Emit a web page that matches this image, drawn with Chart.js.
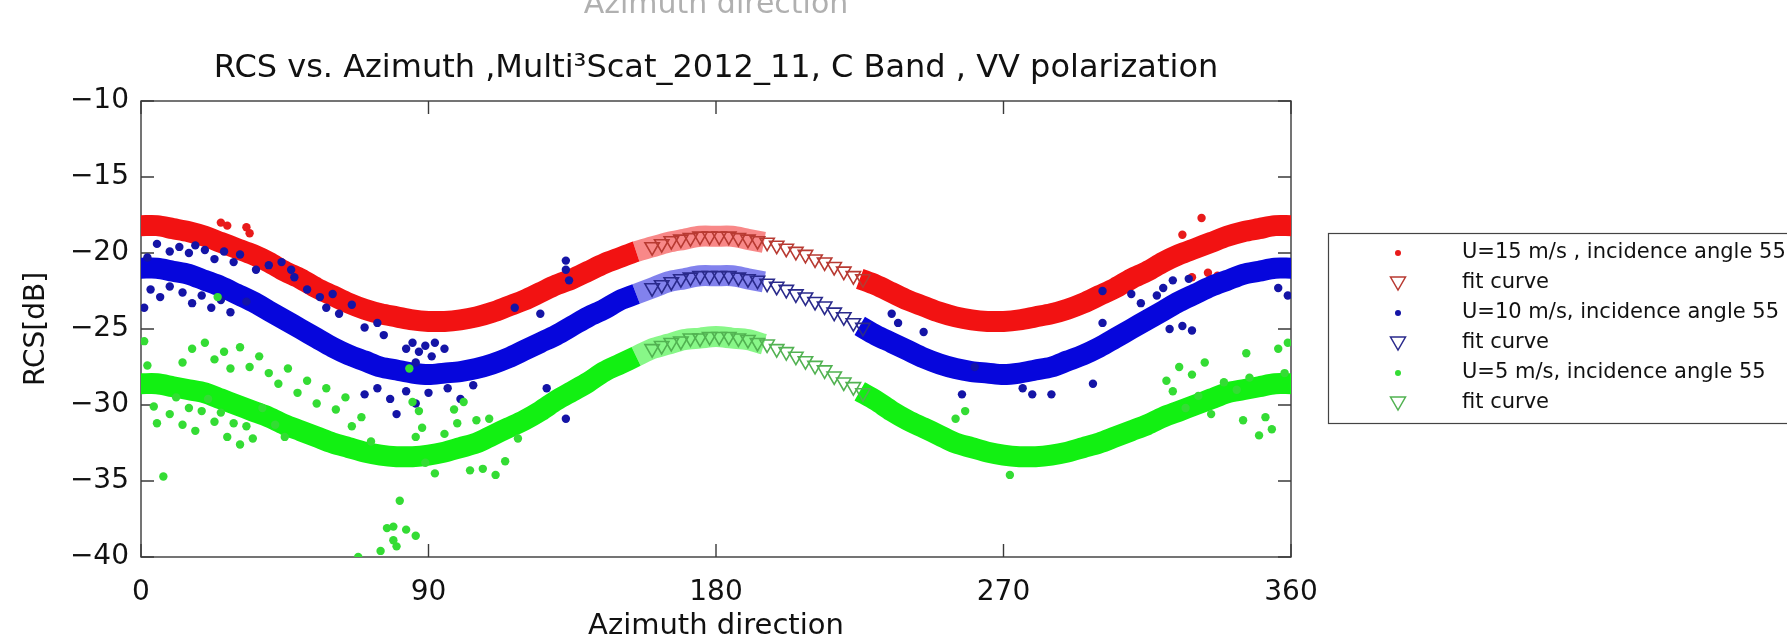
<!DOCTYPE html>
<html><head><meta charset="utf-8">
<script src="https://cdn.jsdelivr.net/npm/chart.js@4.4.1/dist/chart.umd.min.js"></script>
<style>
html,body{margin:0;padding:0;background:#fff;overflow:hidden}
#wrap{position:relative;width:1787px;height:640px}
</style></head><body>
<div id="wrap"><canvas id="c"></canvas></div>
<script>
// ---------- data ----------
const xTicks = [0, 90, 180, 270, 360];
const yTicks = [-40, -35, -30, -25, -20, -15, -10];

const bandAzimuth = [0,5,10,15,20,25,30,35,40,45,50,55,60,65,70,75,80,85,90,95,100,105,110,115,120,125,130,135,140,145,150,155,160,165,170,175,180,185,190,195,200,205,210,215,220,225,230,235,240,245,250,255,260,265,270,275,280,285,290,295,300,305,310,315,320,325,330,335,340,345,350,355,360];
const redBand = [-18.2,-18.2,-18.4,-18.6,-18.9,-19.3,-19.7,-20.1,-20.6,-21.2,-21.7,-22.3,-22.8,-23.3,-23.7,-24.0,-24.2,-24.4,-24.5,-24.5,-24.4,-24.2,-23.9,-23.5,-23.1,-22.6,-22.1,-21.7,-21.2,-20.7,-20.3,-19.9,-19.6,-19.3,-19.1,-18.9,-18.9,-18.9,-19.1,-19.3,null,null,null,null,null,-21.7,-22.1,-22.6,-23.1,-23.5,-23.9,-24.2,-24.4,-24.5,-24.5,-24.4,-24.2,-24.0,-23.7,-23.3,-22.8,-22.3,-21.7,-21.2,-20.6,-20.1,-19.7,-19.3,-18.9,-18.6,-18.4,-18.2,-18.2];
const blueBand = [-21.0,-21.0,-21.2,-21.4,-21.8,-22.2,-22.7,-23.2,-23.8,-24.4,-25.0,-25.6,-26.2,-26.7,-27.1,-27.5,-27.7,-27.9,-28.0,-27.9,-27.8,-27.6,-27.3,-26.9,-26.4,-25.9,-25.4,-24.8,-24.2,-23.7,-23.1,-22.7,-22.3,-21.9,-21.7,-21.5,-21.5,-21.5,-21.7,-21.9,null,null,null,null,null,-24.8,-25.4,-25.9,-26.4,-26.9,-27.3,-27.6,-27.8,-27.9,-28.0,-27.9,-27.7,-27.5,-27.1,-26.7,-26.2,-25.6,-25.0,-24.4,-23.8,-23.2,-22.7,-22.2,-21.8,-21.4,-21.2,-21.0,-21.0];
const greenBand = [-28.6,-28.6,-28.8,-29.0,-29.2,-29.6,-30.0,-30.4,-30.8,-31.3,-31.7,-32.1,-32.5,-32.8,-33.1,-33.3,-33.4,-33.4,-33.3,-33.1,-32.8,-32.5,-32.0,-31.5,-31.0,-30.4,-29.7,-29.1,-28.5,-27.8,-27.3,-26.8,-26.3,-26.0,-25.7,-25.6,-25.5,-25.6,-25.7,-26.0,null,null,null,null,null,-29.1,-29.7,-30.4,-31.0,-31.5,-32.0,-32.5,-32.8,-33.1,-33.3,-33.4,-33.4,-33.3,-33.1,-32.8,-32.5,-32.1,-31.7,-31.3,-30.8,-30.4,-30.0,-29.6,-29.2,-29.0,-28.8,-28.6,-28.6];

const fitAzimuth = [160,163,166,169,172,175,178,181,184,187,190,193,196,199,202,205,208,211,214,217,220,223,226];
const redFit   = [-19.6,-19.4,-19.2,-19.1,-19.0,-18.9,-18.9,-18.9,-18.9,-19.0,-19.1,-19.2,-19.3,-19.5,-19.7,-19.9,-20.1,-20.4,-20.6,-20.9,-21.2,-21.5,-21.7];
const blueFit  = [-22.3,-22.1,-21.9,-21.7,-21.6,-21.5,-21.5,-21.5,-21.5,-21.6,-21.7,-21.8,-22.0,-22.2,-22.4,-22.7,-22.9,-23.2,-23.5,-23.9,-24.2,-24.6,-24.9];
const greenFit = [-26.3,-26.1,-25.9,-25.8,-25.6,-25.6,-25.5,-25.5,-25.5,-25.6,-25.7,-25.9,-26.0,-26.3,-26.5,-26.8,-27.1,-27.4,-27.7,-28.1,-28.5,-28.8,-29.2];

const redOutAz  = [25,27,33,34,326,332,329,334,337];
const redOutVal = [-18.0,-18.2,-18.3,-18.7,-18.8,-17.7,-21.6,-21.3,-21.5];

const blueOutAz  = [2,5,9,12,15,17,20,23,26,29,31,36,40,44,47,48,1,3,6,9,13,16,19,22,25,28,33,52,56,58,60,62,66,70,74,76,83,85,87,89,91,86,92,95,70,74,78,80,83,86,90,96,100,104,127,133,133,133,134,117,125,235,237,245,257,261,276,279,285,298,301,310,313,318,320,323,328,322,326,329,301,356,359];
const blueOutVal = [-20.3,-19.4,-19.9,-19.6,-20.0,-19.5,-19.8,-20.4,-19.9,-20.6,-20.1,-21.1,-20.8,-20.6,-21.1,-21.6,-23.6,-22.4,-22.9,-22.2,-22.6,-23.3,-22.8,-23.6,-23.1,-23.9,-23.2,-22.4,-22.9,-23.6,-22.7,-24.0,-23.4,-24.9,-24.6,-25.4,-26.3,-25.9,-26.5,-26.1,-26.8,-27.2,-25.9,-26.3,-29.3,-28.9,-29.6,-30.6,-29.1,-29.9,-29.2,-28.9,-29.6,-28.7,-28.9,-30.9,-20.5,-21.1,-21.8,-23.6,-24.0,-24.0,-24.6,-25.2,-29.3,-27.5,-28.9,-29.3,-29.3,-28.6,-22.5,-22.7,-23.3,-22.8,-22.3,-21.8,-21.7,-25.0,-24.8,-25.1,-24.6,-22.3,-22.8];

const greenOutAz  = [1,2,4,5,7,9,11,13,15,17,19,21,23,25,27,29,31,33,35,13,16,20,23,26,28,31,34,37,40,43,46,49,52,55,58,61,64,66,69,72,38,42,45,24,68,75,77,79,81,80,83,86,79,84,85,86,87,88,89,92,95,98,99,101,103,105,107,109,111,114,118,255,258,272,321,323,325,327,329,331,333,335,339,343,345,347,350,352,354,356,358,359,346];
const greenOutVal = [-25.8,-27.4,-30.1,-31.2,-34.7,-30.6,-29.5,-31.3,-30.2,-31.7,-30.4,-29.6,-31.1,-30.5,-32.1,-31.2,-32.6,-31.4,-32.2,-27.2,-26.3,-25.9,-27.0,-26.5,-27.6,-26.2,-27.5,-26.8,-27.9,-28.6,-27.6,-29.2,-28.4,-29.9,-28.9,-30.3,-29.5,-31.4,-30.8,-32.4,-30.2,-31.3,-32.1,-22.9,-40.0,-39.6,-38.1,-38.0,-36.3,-39.3,-38.2,-38.6,-38.9,-27.6,-29.8,-32.1,-30.4,-31.5,-33.8,-34.5,-31.9,-30.3,-31.2,-29.8,-34.3,-31.0,-34.2,-30.9,-34.6,-33.7,-32.2,-30.9,-30.4,-34.6,-28.4,-29.1,-27.5,-30.2,-28.0,-29.4,-27.2,-30.6,-28.5,-29.0,-31.0,-28.2,-32.0,-30.8,-31.6,-26.3,-27.9,-25.9,-26.6];

const seriesLabels = ['U=15 m/s , incidence angle 55', 'U=10 m/s, incidence angle 55', 'U=5 m/s, incidence angle 55'];
const fitLabel = 'fit curve';
const xTitle = 'Azimuth direction';
const yTitle = 'RCS[dB]';
const chartTitle = 'RCS vs. Azimuth ,Multi\u00B3Scat_2012_11, C Band , VV polarization';

// ---------- helpers ----------
const pts = (xs, ys) => xs.map((x, i) => ({x, y: ys[i]}));
function dotCanvas(color) {
  const c = document.createElement('canvas'); c.width = 10; c.height = 10;
  const g = c.getContext('2d'); g.fillStyle = color; g.beginPath(); g.arc(5, 5, 3, 0, Math.PI * 2); g.fill();
  return c;
}
function triCanvas(color) {
  const c = document.createElement('canvas'); c.width = 20; c.height = 18;
  const g = c.getContext('2d'); g.strokeStyle = color; g.lineWidth = 1.5;
  g.beginPath(); g.moveTo(2.5, 3); g.lineTo(17.5, 3); g.lineTo(10, 16); g.closePath(); g.stroke();
  return c;
}
const FONT = "'DejaVu Sans', Verdana, sans-serif";
Chart.defaults.font.family = FONT;
Chart.defaults.color = '#111';

const C = {
  red:   {band: '#f21212', faint: 'rgba(242,18,18,0.5)', out: '#e81a1a', fit: '#b83a32'},
  blue:  {band: '#0606dc', faint: 'rgba(6,6,220,0.5)',   out: '#1414a6', fit: '#2a2a8c'},
  green: {band: '#12f012', faint: 'rgba(18,240,18,0.5)', out: '#34dc34', fit: '#52b252'}
};

function bandDs(vals, col, order) {
  return {
    isBand: true, label: '', order,
    data: pts(bandAzimuth, vals), showLine: true, spanGaps: false,
    borderColor: col.band, borderWidth: 21, borderCapStyle: 'butt', tension: 0.3,
    pointRadius: 0, pointHoverRadius: 0,
    segment: { borderColor: ctx => (ctx.p0.parsed.x >= 155 && ctx.p0.parsed.x < 200) ? col.faint : undefined }
  };
}
function outDs(label, xs, ys, col, order, rank) {
  return {
    label, order, legendRank: rank, legendIcon: dotCanvas(col.out),
    data: pts(xs, ys), showLine: false,
    pointStyle: 'circle', pointRadius: 4.2, pointHoverRadius: 4.2, pointBorderWidth: 0,
    backgroundColor: col.out, borderColor: col.out
  };
}
function fitDs(vals, col, order, rank) {
  return {
    label: fitLabel, order, legendRank: rank, legendIcon: triCanvas(col.fit),
    data: pts(fitAzimuth, vals), showLine: false,
    pointStyle: 'triangle', pointRotation: 180, pointRadius: 8.3, pointHoverRadius: 8.3,
    pointBorderWidth: 1.6, backgroundColor: 'rgba(0,0,0,0)', borderColor: col.fit
  };
}

const datasets = [
  bandDs(redBand, C.red, 9),
  outDs(seriesLabels[0], redOutAz, redOutVal, C.red, 8, 0),
  fitDs(redFit, C.red, 7, 1),
  bandDs(blueBand, C.blue, 6),
  outDs(seriesLabels[1], blueOutAz, blueOutVal, C.blue, 5, 2),
  fitDs(blueFit, C.blue, 4, 3),
  bandDs(greenBand, C.green, 3),
  outDs(seriesLabels[2], greenOutAz, greenOutVal, C.green, 2, 4),
  fitDs(greenFit, C.green, 1, 5)
];

// legend geometry (px)
const LEG = {boxLeft: 1328, boxTop: 233, boxBottom: 423, pad: 9, iconCenter: 1398, textStart: 1462, firstRow: 253};
const LEG_FONT = 21;
const LEG_BOXW = 2 * (LEG.textStart - LEG.iconCenter - LEG_FONT / 2);

const matlabFrame = {
  id: 'matlabFrame',
  afterLayout(chart) {
    const lg = chart.legend;
    if (!lg) return;
    lg.left = LEG.iconCenter - LEG_BOXW / 2 - LEG.pad;
    lg.top = LEG.firstRow - LEG_FONT / 2 - LEG.pad;
    lg.right = chart.width + 400; lg.bottom = chart.height;
  },
  beforeDatasetsDraw(chart) {
    const {ctx, chartArea: a, scales: {x, y}} = chart;
    ctx.save();
    ctx.strokeStyle = '#3a3a3a'; ctx.lineWidth = 1.4;
    ctx.strokeRect(a.left, a.top, a.right - a.left, a.bottom - a.top);
    const tl = 13;
    ctx.beginPath();
    xTicks.forEach(v => { const p = x.getPixelForValue(v); ctx.moveTo(p, a.bottom); ctx.lineTo(p, a.bottom - tl); ctx.moveTo(p, a.top); ctx.lineTo(p, a.top + tl); });
    yTicks.forEach(v => { const p = y.getPixelForValue(v); ctx.moveTo(a.left, p); ctx.lineTo(a.left + tl, p); ctx.moveTo(a.right, p); ctx.lineTo(a.right - tl, p); });
    ctx.stroke();
    ctx.restore();
  },
  afterDraw(chart) {
    const ctx = chart.ctx;
    ctx.save();
    ctx.strokeStyle = '#444'; ctx.lineWidth = 1.2;
    ctx.strokeRect(LEG.boxLeft + 0.5, LEG.boxTop + 0.5, 600, LEG.boxBottom - LEG.boxTop);
    // clipped remnant of a label above the figure
    ctx.fillStyle = 'rgba(80,80,80,0.45)';
    ctx.font = '30px ' + FONT; ctx.textAlign = 'center'; ctx.textBaseline = 'alphabetic';
    const a = chart.chartArea;
    ctx.fillText(xTitle, (a.left + a.right) / 2, 13);
    ctx.restore();
  }
};

new Chart(document.getElementById('c'), {
  type: 'scatter',
  data: {datasets},
  plugins: [matlabFrame],
  options: {
    responsive: true, maintainAspectRatio: false, animation: false, events: [],
    layout: {padding: {left: 0, top: 0, right: 1787 - 1291, bottom: 0}},
    plugins: {
      tooltip: {enabled: false},
      title: {display: true, text: chartTitle, fullSize: false, color: '#111',
              font: {size: 32, weight: 'normal'}, padding: {top: 49, bottom: 13.6}},
      legend: {
        display: true, position: 'chartArea', align: 'start',
        labels: {
          usePointStyle: true, pointStyleWidth: LEG_BOXW, boxHeight: LEG_FONT, padding: LEG.pad,
          font: {size: LEG_FONT}, color: '#111',
          filter: (item, data) => !data.datasets[item.datasetIndex].isBand,
          sort: (a, b, data) => data.datasets[a.datasetIndex].legendRank - data.datasets[b.datasetIndex].legendRank,
          generateLabels(chart) {
            const items = Chart.defaults.plugins.legend.labels.generateLabels(chart);
            items.forEach(it => {
              const ds = chart.data.datasets[it.datasetIndex];
              if (ds.legendIcon) { it.pointStyle = ds.legendIcon; it.rotation = 0; }
            });
            return items;
          }
        }
      }
    },
    scales: {
      x: {
        type: 'linear', position: 'bottom', min: 0, max: 360,
        afterBuildTicks: s => { s.ticks = xTicks.map(v => ({value: v})); },
        afterFit: s => { s.height = 83; },
        grid: {display: false, drawTicks: false}, border: {display: false},
        ticks: {font: {size: 28}, color: '#111', padding: 19, maxRotation: 0, autoSkip: false},
        title: {display: true, text: xTitle, font: {size: 29}, color: '#111', padding: {top: 0, bottom: -4}}
      },
      y: {
        type: 'linear', position: 'left', min: -40, max: -10,
        afterBuildTicks: s => { s.ticks = yTicks.map(v => ({value: v})); },
        afterFit: s => { s.width = 141; },
        grid: {display: false, drawTicks: false}, border: {display: false},
        ticks: {font: {size: 28}, color: '#111', padding: 12, autoSkip: false,
                callback: v => (v < 0 ? '\u2212' + Math.abs(v) : String(v))},
        title: {display: true, text: yTitle, font: {size: 28}, color: '#111', padding: {top: 20, bottom: 0}}
      }
    }
  }
});
</script>
</body></html>
